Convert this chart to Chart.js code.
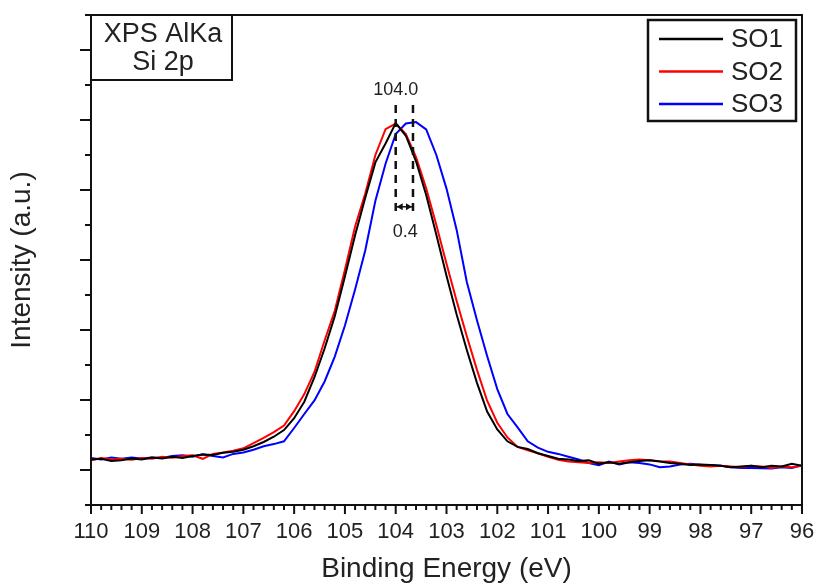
<!DOCTYPE html>
<html>
<head>
<meta charset="utf-8">
<script src="https://cdn.jsdelivr.net/npm/chart.js@4.4.0/dist/chart.umd.min.js"></script>
<style>
  html, body { margin: 0; padding: 0; background: #fff; }
  #wrap { width: 817px; height: 583px; }
</style>
</head>
<body>
<div id="wrap"><canvas id="xpsChart" width="817" height="583"></canvas></div>
<script>
const energies = [
  110, 109.8, 109.6, 109.4, 109.2, 109, 108.8, 108.6, 108.4, 108.2,
  108, 107.8, 107.6, 107.4, 107.2, 107, 106.8, 106.6, 106.4, 106.2,
  106, 105.8, 105.6, 105.4, 105.2, 105, 104.8, 104.6, 104.4, 104.2,
  104, 103.8, 103.6, 103.4, 103.2, 103, 102.8, 102.6, 102.4, 102.2,
  102, 101.8, 101.6, 101.4, 101.2, 101, 100.8, 100.6, 100.4, 100.2,
  100, 99.8, 99.6, 99.4, 99.2, 99, 98.8, 98.6, 98.4, 98.2,
  98, 97.8, 97.6, 97.4, 97.2, 97, 96.8, 96.6, 96.4, 96.2,
  96
];

// Intensities (a.u.)
const so1 = [
  1.30, 1.32, 1.26, 1.28, 1.33, 1.30, 1.36, 1.33, 1.38, 1.34,
  1.40, 1.44, 1.43, 1.49, 1.52, 1.58, 1.68, 1.80, 1.95, 2.14,
  2.48, 2.95, 3.65, 4.47, 5.39, 6.53, 7.71, 8.78, 9.79, 10.33,
  10.91, 10.55, 9.82, 8.86, 7.72, 6.55, 5.44, 4.43, 3.49, 2.67,
  2.16, 1.82, 1.66, 1.60, 1.48, 1.40, 1.32, 1.30, 1.26, 1.28,
  1.18, 1.22, 1.18, 1.22, 1.26, 1.28, 1.24, 1.20, 1.18, 1.14,
  1.16, 1.14, 1.12, 1.08, 1.10, 1.12, 1.08, 1.12, 1.10, 1.18,
  1.12
];
const so2 = [
  1.28, 1.34, 1.30, 1.32, 1.29, 1.34, 1.32, 1.38, 1.35, 1.40,
  1.42, 1.32, 1.46, 1.50, 1.55, 1.62, 1.77, 1.92, 2.08, 2.27,
  2.68, 3.17, 3.80, 4.70, 5.55, 6.72, 7.96, 8.90, 10.00, 10.74,
  10.90, 10.60, 9.94, 9.05, 8.00, 6.89, 5.83, 4.82, 3.86, 2.98,
  2.35, 1.93, 1.66, 1.56, 1.48, 1.38, 1.29, 1.24, 1.22, 1.20,
  1.22, 1.20, 1.24, 1.28, 1.30, 1.28, 1.25, 1.24, 1.20, 1.16,
  1.12, 1.10, 1.12, 1.10, 1.08, 1.12, 1.10, 1.06, 1.10, 1.08,
  1.12
];
const so3 = [
  1.34, 1.30, 1.36, 1.32, 1.36, 1.33, 1.36, 1.34, 1.40, 1.42,
  1.38, 1.45, 1.40, 1.36, 1.46, 1.50, 1.58, 1.68, 1.74, 1.82,
  2.20, 2.60, 2.99, 3.53, 4.24, 5.13, 6.16, 7.27, 8.69, 9.75,
  10.60, 10.90, 10.94, 10.73, 10.00, 9.04, 7.86, 6.37, 5.28, 4.26,
  3.31, 2.60, 2.22, 1.82, 1.64, 1.52, 1.46, 1.38, 1.30, 1.20,
  1.14, 1.24, 1.16, 1.22, 1.20, 1.16, 1.08, 1.10, 1.16, 1.18,
  1.15, 1.14, 1.12, 1.08, 1.06, 1.06, 1.05, 1.04, 1.08, 1.06,
  1.14
];

const seriesNames = ['SO1', 'SO2', 'SO3'];
const seriesColors = ['#000000', '#ff0000', '#0000ff'];

// peak shift marker: positions of the two dashed lines and their labels
const peakLines = [104.0, 103.66];
const peakLabel = '104.0';
const shiftLabel = '0.4';
const boxLines = ['XPS AlKa', 'Si 2p'];

const FONT = '"Liberation Sans", Arial, sans-serif';
const INK = '#222';

const toPoints = vals => energies.map((e, i) => ({ x: e, y: vals[i] }));

// ticks, frame, legend and text boxes drawn after the chart
const xpsDecor = {
  id: 'xpsDecor',
  afterDraw(chart) {
    const { ctx, chartArea: a, scales: { x, y } } = chart;
    ctx.save();
    ctx.strokeStyle = '#111';
    ctx.lineWidth = 2;
    ctx.strokeRect(a.left, a.top, a.right - a.left, a.bottom - a.top);

    // x ticks: major every 1 eV, minor every 0.2 eV, pointing down
    for (let k = 0; k <= 70; k++) {
      const px = x.getPixelForValue(96 + k * 0.2);
      const len = k % 5 === 0 ? 9 : 5;
      ctx.beginPath();
      ctx.moveTo(px, a.bottom);
      ctx.lineTo(px, a.bottom + len);
      ctx.stroke();
    }
    // y ticks: no labels, long ones at odd values
    for (let k = 0; k <= 14; k++) {
      const py = y.getPixelForValue(k);
      const len = k % 2 === 1 ? 11 : 6;
      ctx.beginPath();
      ctx.moveTo(a.left - len, py);
      ctx.lineTo(a.left, py);
      ctx.stroke();
    }

    // top-left text box
    ctx.strokeRect(a.left, a.top, 141, 65);
    ctx.fillStyle = INK;
    ctx.font = '27px ' + FONT;
    ctx.textAlign = 'center';
    ctx.textBaseline = 'middle';
    ctx.fillText(boxLines[0], a.left + 72, a.top + 20);
    ctx.fillText(boxLines[1], a.left + 72, a.top + 48);

    // legend box
    ctx.font = '26px ' + FONT;
    ctx.fillStyle = '#fff';
    ctx.fillRect(648, 20, 148, 101);
    ctx.lineWidth = 2.5;
    ctx.strokeRect(648, 20, 148, 101);
    ctx.textAlign = 'left';
    chart.data.datasets.forEach((ds, i) => {
      const ly = 39 + i * 32.5;
      ctx.strokeStyle = ds.borderColor;
      ctx.lineWidth = 2.5;
      ctx.beginPath();
      ctx.moveTo(659, ly);
      ctx.lineTo(723, ly);
      ctx.stroke();
      ctx.fillStyle = INK;
      ctx.fillText(ds.label, 731, ly + 1);
    });

    // peak position marker
    const x1 = x.getPixelForValue(peakLines[0]);
    const x2 = x.getPixelForValue(peakLines[1]);
    const yTop = y.getPixelForValue(11.43);
    const yBot = y.getPixelForValue(8.29);
    ctx.strokeStyle = '#111';
    ctx.lineWidth = 2.5;
    ctx.setLineDash([8, 6]);
    [x1, x2].forEach(px => {
      ctx.beginPath();
      ctx.moveTo(px, yTop);
      ctx.lineTo(px, yBot);
      ctx.stroke();
    });
    ctx.setLineDash([]);
    const ya = y.getPixelForValue(8.52);
    ctx.lineWidth = 1.5;
    ctx.beginPath();
    ctx.moveTo(x1 + 1, ya);
    ctx.lineTo(x2 - 1, ya);
    ctx.stroke();
    ctx.fillStyle = '#111';
    [[x1 + 1, 1], [x2 - 1, -1]].forEach(([px, dir]) => {
      ctx.beginPath();
      ctx.moveTo(px, ya);
      ctx.lineTo(px + dir * 6, ya - 3.5);
      ctx.lineTo(px + dir * 6, ya + 3.5);
      ctx.closePath();
      ctx.fill();
    });
    ctx.fillStyle = INK;
    ctx.font = '18px ' + FONT;
    ctx.textAlign = 'center';
    ctx.fillText(peakLabel, x1, y.getPixelForValue(11.86));
    ctx.fillText(shiftLabel, (x1 + x2) / 2 + 1, y.getPixelForValue(7.8));
    ctx.restore();
  }
};

const ctx = document.getElementById('xpsChart').getContext('2d');
new Chart(ctx, {
  type: 'line',
  data: {
    datasets: [so1, so2, so3].map((vals, i) => ({
      label: seriesNames[i],
      data: toPoints(vals),
      borderColor: seriesColors[i],
      borderWidth: 2,
      pointRadius: 0,
      tension: 0,
      fill: false
    }))
  },
  options: {
    responsive: false,
    animation: false,
    layout: { padding: { top: 15, right: 15, left: 0, bottom: 0 } },
    plugins: {
      legend: { display: false },
      tooltip: { enabled: false }
    },
    scales: {
      x: {
        type: 'linear',
        reverse: true,
        min: 96,
        max: 110,
        grid: { display: false },
        border: { display: false },
        ticks: {
          stepSize: 1,
          padding: 6,
          color: INK,
          font: { family: FONT, size: 22 },
          maxRotation: 0,
          autoSkip: false
        },
        title: {
          display: true,
          text: 'Binding Energy (eV)',
          color: INK,
          font: { family: FONT, size: 28, lineHeight: 1 },
          padding: { top: 0, bottom: 0 }
        },
        afterFit(scale) {
          scale.height = 78;
          // edge labels fit inside the page margins already
          scale.paddingLeft = 0;
          scale.paddingRight = 0;
        }
      },
      y: {
        min: 0,
        max: 14,
        grid: { display: false },
        border: { display: false },
        ticks: { display: false },
        title: {
          display: true,
          text: 'Intensity (a.u.)',
          color: INK,
          font: { family: FONT, size: 28, lineHeight: 1.2 },
          padding: { top: 5, bottom: 0 }
        },
        afterFit(scale) { scale.width = 91; }
      }
    }
  },
  plugins: [xpsDecor]
});
</script>
</body>
</html>
